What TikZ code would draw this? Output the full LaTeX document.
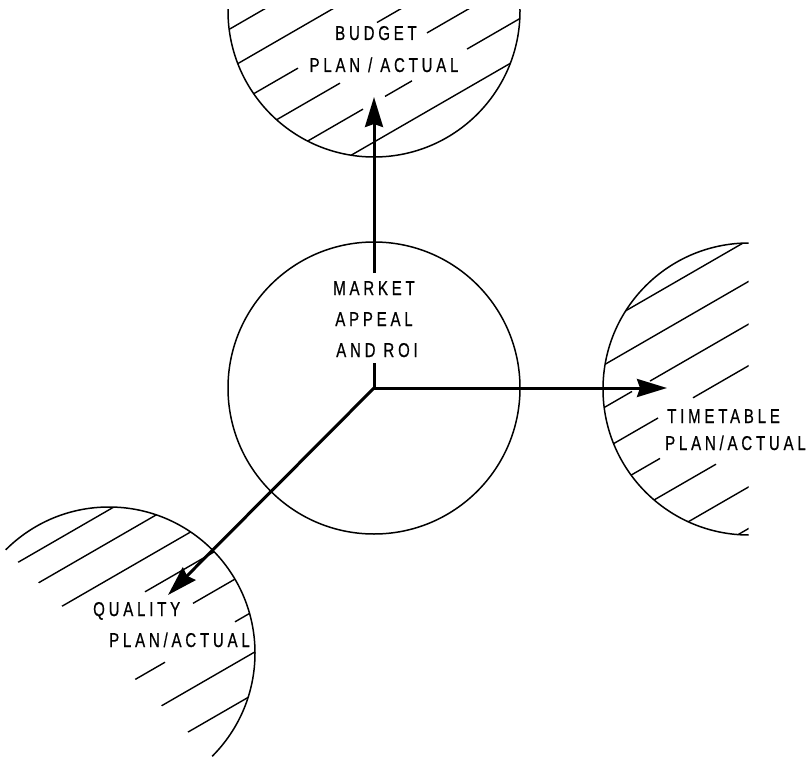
\documentclass[tikz,border=0pt]{standalone}
\usepackage{fontspec}
\newfontfamily\lab[FakeStretch=0.75,LetterSpace=19,FakeBold=0.6]{Liberation Sans}
\usetikzlibrary{arrows.meta}
\newcommand\hseg[3]{\draw[hatch] (#2,{(#1-0.5*#2)/0.866}) -- (#3,{(#1-0.5*#3)/0.866});}
\begin{document}
\begin{tikzpicture}[x=1pt,y=-1pt,
  ring/.style={line width=1.5pt},
  hatch/.style={line width=1.4pt},
  arr/.style={line width=3pt,-{Stealth[length=30pt,width=18pt,inset=3pt]}},
  lbl/.style={font=\lab\fontsize{20}{20}\selectfont, inner sep=0pt},
]
\useasboundingbox (0,0) rectangle (811,757);
\clip (0,0) rectangle (811,757);

% central circle
\node[circle, draw, ring, minimum size=292pt, inner sep=0pt] (mc) at (374,388) {};

% ---- budget half disk
\begin{scope}
  \clip (200,10) rectangle (560,200);
  \draw[ring] (374,11) circle[radius=146];
  \clip (374,11) circle[radius=146];
  \hseg{140}{150}{400}
  \hseg{174}{150}{450}
  \hseg{208}{150}{298} \hseg{208}{377}{500}
  \hseg{242}{150}{340} \hseg{242}{427}{560}
  \hseg{276}{150}{363} \hseg{276}{385}{412} \hseg{276}{467}{600}
  \hseg{310}{150}{600}
\end{scope}

% ---- timetable half disk
\begin{scope}
  \clip (500,200) rectangle (748.5,600);
  \draw[ring] (749,389) circle[radius=146];
  \clip (749,389) circle[radius=146];
  \hseg{582}{550}{800}
  \hseg{618}{550}{800}
  \hseg{655}{550}{632} \hseg{655}{650}{800}
  \hseg{691}{550}{658} \hseg{691}{693}{800}
  \hseg{727}{550}{660}
  \hseg{760}{550}{716}
  \hseg{796}{550}{800}
  \hseg{832}{550}{800}
\end{scope}

% ---- quality half disk
\begin{scope}
  \clip (-400,144) -- (800,1344) -- (800,-400) -- (-400,-400) -- cycle;
  \draw[ring] (109,653) circle[radius=146];
  \clip (109,653) circle[radius=146];
  \hseg{496}{-50}{300}
  \hseg{524}{-50}{300}
  \hseg{556}{-50}{300}
  \hseg{585}{145}{300}
  \hseg{619}{193}{300}
  \hseg{656}{-50}{165} \hseg{656}{235}{300}
  \hseg{692}{-50}{300}
  \hseg{728}{-50}{300}
\end{scope}

% ---- labels
\node[lbl, anchor=base] (bud1) at (376,40) {BUDGET};
\node[lbl, anchor=base] (bud2) at (384,72) {PLAN / ACTUAL};
\node[lbl, anchor=base] (mk1) at (374,295) {MARKET};
\node[lbl, anchor=base] (mk2) at (374,326) {APPEAL};
\node[lbl, anchor=base] (mk3) at (377,357) {AND ROI};
\node[lbl, anchor=base west] (tt1) at (667,423) {TIMETABLE};
\node[lbl, anchor=base west] (tt2) at (665,450) {PLAN/ACTUAL};
\node[lbl, anchor=base west] (ql1) at (93,616) {QUALITY};
\node[lbl, anchor=base west] (ql2) at (109,647) {PLAN/ACTUAL};

% ---- arrows
\coordinate (tipB) at (374,97);
\coordinate (tipT) at (667,388);
\coordinate (tipQ) at (168,595);
\coordinate (gapLo) at (374,363);
\coordinate (gapHi) at (374,273);
\draw[line width=3pt] (mc.center) -- (gapLo);
\draw[arr] (gapHi) -- (tipB);
\draw[arr] (mc.center) -- (tipT);
\draw[arr] (mc.center) -- (tipQ);
\end{tikzpicture}
\end{document}
